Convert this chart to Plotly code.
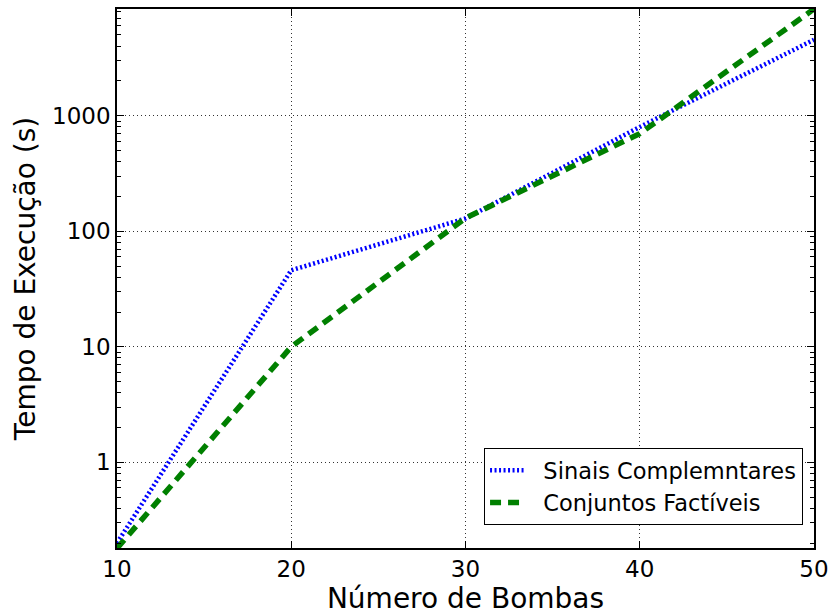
import plotly.graph_objects as go

num_bombas = [10, 20, 30, 40, 50]
sinais_complementares = [0.20, 46, 129, 800, 4550]
conjuntos_factiveis = [0.18, 10, 130, 700, 8400]
series_names = ["Sinais Complemntares", "Conjuntos Factíveis"]
y_tick_vals = [1, 10, 100, 1000]
y_tick_text = ["1", "10", "100", "1000"]
x_tick_vals = [10, 20, 30, 40, 50]

pad = "\u00a0\u00a0"  # visual gap between legend symbol and label

fig = go.Figure()
fig.add_trace(go.Scatter(
    x=num_bombas, y=sinais_complementares, mode="lines",
    name=pad + series_names[0],
    line=dict(color="#0000ff", width=4.5, dash="2px,2.5px"),
))
fig.add_trace(go.Scatter(
    x=num_bombas, y=conjuntos_factiveis, mode="lines",
    name=pad + series_names[1],
    line=dict(color="#008000", width=5.5, dash="11px,7px"),
))

font_family = "DejaVu Sans"
fig.update_layout(
    width=829, height=615,
    margin=dict(l=117, r=15, t=9, b=67),
    paper_bgcolor="white", plot_bgcolor="white",
    font=dict(family=font_family, color="black", size=23),
    showlegend=True,
    legend=dict(
        x=0.984, y=0.043, xanchor="right", yanchor="bottom",
        bordercolor="black", borderwidth=1.2, bgcolor="white",
        font=dict(size=22.5, family=font_family),
        itemwidth=34, tracegroupgap=2,
    ),
)
fig.update_xaxes(
    range=[10, 50], tickvals=x_tick_vals, automargin=False,
    ticks="inside", ticklen=7, tickcolor="black", mirror="ticks",
    showline=True, linecolor="black", linewidth=1.5,
    showgrid=True, gridcolor="#333333", griddash="1px,3px", gridwidth=1,
    zeroline=False,
    tickfont=dict(size=23),
    title=dict(text="Número de Bombas", font=dict(size=28), standoff=6),
)
fig.update_yaxes(
    type="log", range=[-0.742, 3.924], automargin=False,
    tickvals=y_tick_vals, ticktext=y_tick_text,
    ticks="inside", ticklen=7, tickcolor="black", mirror="ticks",
    showline=True, linecolor="black", linewidth=1.5,
    showgrid=True, gridcolor="#333333", griddash="1px,3px", gridwidth=1,
    zeroline=False,
    minor=dict(ticks="inside", ticklen=4, tickcolor="black", dtick="D1", showgrid=False),
    tickfont=dict(size=23),
    title=dict(text="Tempo de Execução (s)", font=dict(size=28), standoff=8),
)

fig.write_html("out.html", post_script="document.body.style.margin='0';",
               config={"displayModeBar": False})
